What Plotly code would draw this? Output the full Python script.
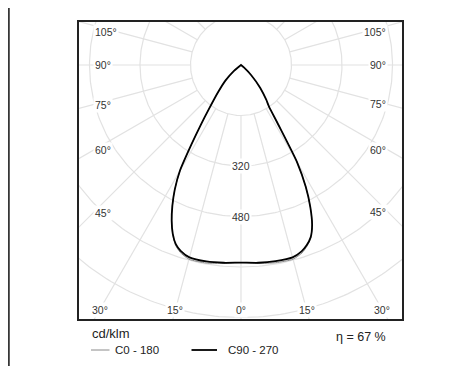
import numpy as np
import plotly.graph_objects as go

# ---- data (cd/klm) ----
gamma = [0, 5, 10, 15, 18, 20, 22, 24, 26, 28, 30, 32, 34, 36, 40, 45, 50, 55, 60, 70, 80, 90]
c270 = [626, 629, 632, 631, 619, 604, 577, 540, 496, 447, 387, 295, 225, 174, 114, 70, 29, 0, 0, 0, 0, 0]
c90 = [626, 629, 631, 631, 621, 608, 589, 554, 501, 437, 355, 225, 158, 136, 95, 46, 12, 0, 0, 0, 0, 0]
c180 = [626, 631, 637, 637, 624, 607, 578, 540, 496, 447, 387, 295, 225, 174, 114, 70, 29, 0, 0, 0, 0, 0]
c0 = [626, 631, 636, 637, 626, 611, 590, 554, 501, 437, 355, 225, 158, 136, 95, 46, 12, 0, 0, 0, 0, 0]
rings = [160, 320, 480, 640, 800, 960, 1120]
ring_labels = [320, 480]
angle_labels = [0, 15, 30, 45, 60, 75, 90, 105]
legend_names = ["C0 - 180", "C90 - 270"]
unit_label = "cd/klm"
efficiency = "η = 67 %"

W, H = 472, 366
OFF = 8                                 # page offset of the plot div
X0, X1, Y0, Y1 = 79, 402, 22, 319       # frame in page px
CX, CY = 241, 65                        # polar centre in page px
S = 50.5 / 160                          # px per cd/klm

xr = [(X0 - CX) / S, (X1 - CX) / S]
yr = [(CY - Y1) / S, (CY - Y0) / S]


def px(x):
    return (x - OFF) / W


def py(y):
    return 1 - (y - OFF) / H


def curve(left, right):
    g = np.radians(gamma)
    l = np.array(left, float)
    r = np.array(right, float)
    xs = list(-(l * np.sin(g))[::-1]) + list((r * np.sin(g))[1:])
    ys = list(-(l * np.cos(g))[::-1]) + list(-(r * np.cos(g))[1:])
    return xs, ys


fig = go.Figure()

grid = "#e2e2e2"
t = np.linspace(0, 2 * np.pi, 361)
gx, gy = [], []
for rr in rings:
    gx += list(rr * np.sin(t)) + [None]
    gy += list(-rr * np.cos(t)) + [None]
for a in range(0, 360, 15):
    ar = np.radians(a)
    gx += [rings[0] * np.sin(ar), 2000 * np.sin(ar), None]
    gy += [-rings[0] * np.cos(ar), -2000 * np.cos(ar), None]
fig.add_trace(go.Scatter(x=gx, y=gy, mode="lines", line=dict(color=grid, width=1.2),
                         hoverinfo="skip", showlegend=False))

x1, y1 = curve(c180, c0)
fig.add_trace(go.Scatter(x=x1, y=y1, mode="lines", name=legend_names[0],
                         line=dict(color="#8a8a8a", width=1, shape="spline", smoothing=0.6),
                         showlegend=False))
x2, y2 = curve(c270, c90)
fig.add_trace(go.Scatter(x=x2, y=y2, mode="lines", name=legend_names[1],
                         line=dict(color="#000000", width=1.8, shape="spline", smoothing=0.6),
                         showlegend=False))

ann = []
lab_font = dict(family="Liberation Sans, Arial, sans-serif", size=10.5, color="#333")
for v in ring_labels:
    ann.append(dict(x=0, y=-v, xref="x", yref="y", text=str(v), showarrow=False,
                    bgcolor="white", borderpad=1, font=lab_font))

side_in = 14 / S
bot_in = 9.5 / S
top_in = 10 / S
for a in angle_labels:
    ar = np.radians(a)
    for sgn in (-1, 1):
        if a == 0 and sgn == 1:
            continue
        X = (xr[1] if sgn > 0 else -xr[0]) - side_in
        if a == 0:
            yv = yr[0] + bot_in
            xv = 0
            anchor = "center"
        else:
            yv = -X / np.tan(ar)
            if yv < yr[0] + bot_in:
                yv = yr[0] + bot_in
                xv = sgn * (-yv) * np.tan(ar)
                anchor = "center"
            else:
                yv = min(yv, yr[1] - top_in)
                xv = sgn * X
                anchor = "right" if sgn > 0 else "left"
        ann.append(dict(x=xv, y=yv, xref="x", yref="y", text=f"{a}°", showarrow=False,
                        xanchor=anchor, yanchor="middle", bgcolor="white", borderpad=1,
                        font=lab_font))

txt_font = dict(family="Liberation Sans, Arial, sans-serif", size=13, color="#222")
ann.append(dict(x=px(90), y=py(333), xref="paper", yref="paper", text=unit_label,
                showarrow=False, xanchor="left", yanchor="middle", font=txt_font))
ann.append(dict(x=px(388), y=py(337), xref="paper", yref="paper", text=efficiency,
                showarrow=False, xanchor="right", yanchor="middle",
                font=dict(family="Liberation Sans, Arial, sans-serif", size=12.5, color="#222")))
leg_font = dict(family="Liberation Sans, Arial, sans-serif", size=11.5, color="#222")
ann.append(dict(x=px(112.5), y=py(350), xref="paper", yref="paper", text=legend_names[0],
                showarrow=False, xanchor="left", yanchor="middle", font=leg_font))
ann.append(dict(x=px(225.5), y=py(350), xref="paper", yref="paper", text=legend_names[1],
                showarrow=False, xanchor="left", yanchor="middle", font=leg_font))

shapes = [
    dict(type="line", xref="paper", yref="paper", x0=px(91), x1=px(109.5), y0=py(350), y1=py(350),
         line=dict(color="#8a8a8a", width=1)),
    dict(type="line", xref="paper", yref="paper", x0=px(191.5), x1=px(217), y0=py(350), y1=py(350),
         line=dict(color="#000", width=1.8)),
    dict(type="line", xref="paper", yref="paper", x0=0.9 / W, x1=0.9 / W, y0=0, y1=1,
         line=dict(color="#222", width=1.6)),
]

fig.update_layout(
    width=W, height=H, margin=dict(l=0, r=0, t=0, b=0),
    paper_bgcolor="white", plot_bgcolor="white",
    xaxis=dict(range=xr, domain=[px(X0), px(X1)], showgrid=False, zeroline=False,
               showticklabels=False, ticks="", showline=True, mirror=True,
               linecolor="#222", linewidth=1.6, fixedrange=True),
    yaxis=dict(range=yr, domain=[py(Y1), py(Y0)], showgrid=False, zeroline=False,
               showticklabels=False, ticks="", showline=True, mirror=True,
               linecolor="#222", linewidth=1.6, fixedrange=True),
    annotations=ann, shapes=shapes, showlegend=False,
)

fig.write_html("out.html")
